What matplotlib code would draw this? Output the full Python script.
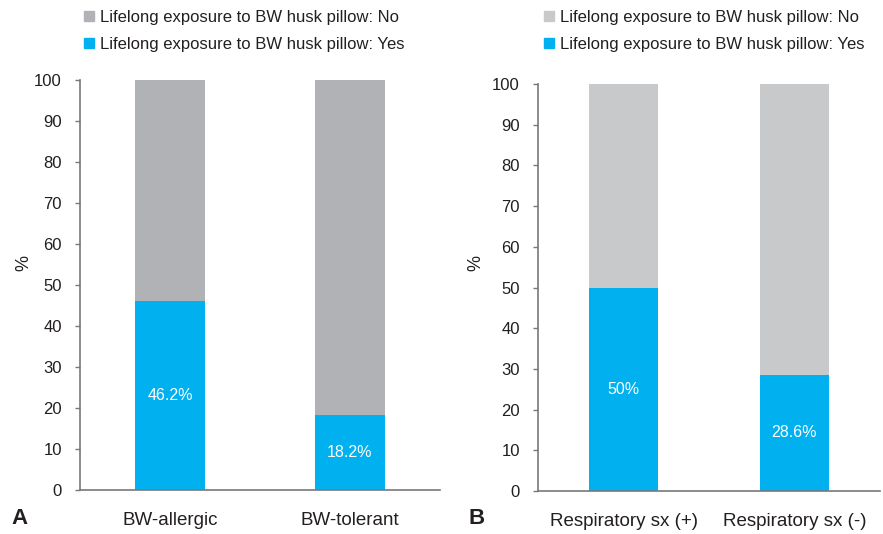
import matplotlib
matplotlib.use("Agg")
import matplotlib.pyplot as plt
from matplotlib.patches import Patch

plt.rcParams['font.family'] = ['Liberation Sans', 'DejaVu Sans']

cats_a = ["BW-allergic", "BW-tolerant"]
yes_a = [46.2, 18.2]
cats_b = ["Respiratory sx (+)", "Respiratory sx (-)"]
yes_b = [50.0, 28.6]
labels_a = ["46.2%", "18.2%"]
labels_b = ["50%", "28.6%"]
yticks = [0, 10, 20, 30, 40, 50, 60, 70, 80, 90, 100]
legend_labels = ["Lifelong exposure to BW husk pillow: No",
                 "Lifelong exposure to BW husk pillow: Yes"]

blue = "#00b0ef"
gray_a = "#b1b2b6"
gray_b = "#c8c9cb"
text_col = "#231f20"
spine_col = "#77787b"

fig = plt.figure(figsize=(8.83, 5.34), dpi=100)
ax_a = fig.add_axes([80/883, 1-490/534, 360/883, 410/534])
ax_b = fig.add_axes([538/883, 1-491/534, 342/883, 407/534])

def draw(ax, cats, yes, labels, gray, width, lab_xy):
    x = list(range(len(cats)))
    no = [100 - v for v in yes]
    ax.bar(x, yes, width=width, color=blue, zorder=2)
    ax.bar(x, no, bottom=yes, width=width, color=gray, zorder=2)
    for xi, v, lab in zip(x, yes, labels):
        ax.text(xi, v/2, lab, ha='center', va='center', color='white', fontsize=11.5)
    ax.set_xlim(-0.5, len(cats) - 0.5)
    ax.set_ylim(0, 100)
    ax.set_yticks(yticks)
    ax.set_xticks(x)
    ax.set_xticklabels(cats, fontsize=13.5, color=text_col)
    ax.tick_params(axis='x', length=0, pad=16)
    ax.tick_params(axis='y', direction='out', length=3.6, color=spine_col,
                   labelsize=12, labelcolor=text_col, width=1, pad=9.4)
    for s in ['top', 'right']:
        ax.spines[s].set_visible(False)
    for s in ['left', 'bottom']:
        ax.spines[s].set_color(spine_col)
        ax.spines[s].set_linewidth(1.2)
    ax.set_ylabel('%', fontsize=13, color=text_col)
    ax.yaxis.set_label_coords(*lab_xy)

draw(ax_a, cats_a, yes_a, labels_a, gray_a, 0.39, (-0.132, 0.554))
draw(ax_b, cats_b, yes_b, labels_b, gray_b, 0.40, (-0.158, 0.56))

for ax, gray, xpos in [(ax_a, gray_a, 74/883), (ax_b, gray_b, 534/883)]:
    handles = [Patch(color=gray), Patch(color=blue)]
    fig.legend(handles, legend_labels, loc='upper left',
               bbox_to_anchor=(xpos, 1.0), frameon=False, fontsize=12,
               handlelength=0.6, handleheight=0.6, handletextpad=0.35,
               labelspacing=0.72, borderaxespad=0.2, labelcolor=text_col)

fig.text(11/883, 1-518/534, "A", fontsize=16, fontweight='bold', color=text_col, va='center')
fig.text(468/883, 1-518/534, "B", fontsize=16, fontweight='bold', color=text_col, va='center')

fig.savefig("out.png", dpi=100)
